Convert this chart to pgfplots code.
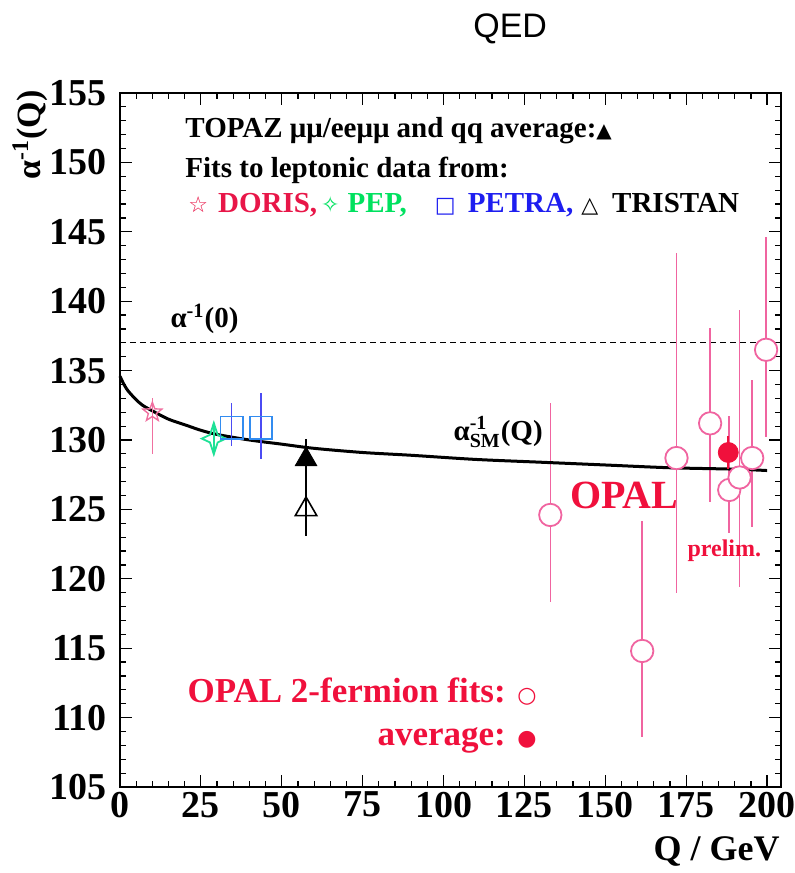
\documentclass[border=0pt]{standalone}
\usepackage{fontspec}
\usepackage{pgfplots}
\pgfplotsset{compat=1.18}
\setmainfont{Liberation Serif}
\newfontfamily\sym{DejaVu Sans}
\newfontfamily\helv{Liberation Sans}

\definecolor{opalpink}{RGB}{240,100,160}
\definecolor{opalred}{RGB}{240,16,60}
\definecolor{dorisred}{RGB}{232,22,72}
\definecolor{dorispink}{RGB}{240,112,160}
\definecolor{pepgreen}{RGB}{0,225,95}
\definecolor{pepmark}{RGB}{30,225,150}
\definecolor{petrablue}{RGB}{30,30,240}
\definecolor{petramark}{RGB}{50,140,240}

% open five-point star
\pgfdeclareplotmark{ostar}{%
  \pgfpathmoveto{\pgfpointpolar{90}{\pgfplotmarksize}}%
  \pgfpathlineto{\pgfpointpolar{126}{0.42\pgfplotmarksize}}%
  \pgfpathlineto{\pgfpointpolar{162}{\pgfplotmarksize}}%
  \pgfpathlineto{\pgfpointpolar{198}{0.42\pgfplotmarksize}}%
  \pgfpathlineto{\pgfpointpolar{234}{\pgfplotmarksize}}%
  \pgfpathlineto{\pgfpointpolar{270}{0.42\pgfplotmarksize}}%
  \pgfpathlineto{\pgfpointpolar{306}{\pgfplotmarksize}}%
  \pgfpathlineto{\pgfpointpolar{342}{0.42\pgfplotmarksize}}%
  \pgfpathlineto{\pgfpointpolar{18}{\pgfplotmarksize}}%
  \pgfpathlineto{\pgfpointpolar{54}{0.42\pgfplotmarksize}}%
  \pgfpathclose\pgfusepathqstroke}
% open four-point star
\pgfdeclareplotmark{ofour}{%
  \pgfpathmoveto{\pgfpointpolar{90}{1.3\pgfplotmarksize}}%
  \pgfpathlineto{\pgfpointpolar{45}{0.45\pgfplotmarksize}}%
  \pgfpathlineto{\pgfpointpolar{0}{\pgfplotmarksize}}%
  \pgfpathlineto{\pgfpointpolar{315}{0.45\pgfplotmarksize}}%
  \pgfpathlineto{\pgfpointpolar{270}{1.3\pgfplotmarksize}}%
  \pgfpathlineto{\pgfpointpolar{225}{0.45\pgfplotmarksize}}%
  \pgfpathlineto{\pgfpointpolar{180}{\pgfplotmarksize}}%
  \pgfpathlineto{\pgfpointpolar{135}{0.45\pgfplotmarksize}}%
  \pgfpathclose\pgfusepathqstroke}

\begin{document}
\begin{tikzpicture}
\begin{axis}[
    scale only axis,
    width=330.5pt, height=347pt,
    xmin=0, xmax=204.3,
    ymin=105, ymax=155,
    xtick={0,25,...,200},
    ytick={105,110,...,155},
    minor x tick num=4,
    minor y tick num=4,
    tick align=inside,
    major tick length=6pt,
    minor tick length=3pt,
    axis line style={line width=1pt},
    tick style={line width=0.6pt, black},
    /pgf/number format/assume math mode=true,
    tick label style={font=\bfseries\fontsize{19}{20}\selectfont},
    yticklabel style={xshift=-3pt},
    xticklabel style={yshift=1pt},
    clip=false,
]
\coordinate (ll) at (rel axis cs:0,0);

% alpha^-1(0)
\addplot[black, dashed, line width=0.6pt, dash pattern=on 3pt off 2pt]
    coordinates {(0,137.036) (204.3,137.036)};

% OPAL 2-fermion fits
\addplot[only marks, mark=*, mark size=5.6pt, opalpink,
    mark options={fill=white, line width=0.9pt},
    error bars/.cd, y dir=both, y explicit, error mark=none,
    error bar style={opalpink, line width=0.8pt}]
  table[x=q, y=a, y error plus=ep, y error minus=em] {
    q     a      ep    em
    133.0 124.6  8.1   6.3
    161.4 114.8  9.4   6.2
    172.0 128.7  14.8  9.7
    182.4 131.2  6.9   5.7
    188.3 126.4  5.3   3.1
    191.5 127.3  12.1  7.9
    195.4 128.7  5.6   5.0
    199.7 136.5  8.1   6.3
  };

% SM running
\addplot[black, line width=1.5pt, smooth] coordinates {
  (0,134.6) (1,134.1) (2,133.7) (3,133.4) (5,132.9) (7,132.5) (10,132.1)
  (15,131.5) (20,131.1) (25,130.7) (30,130.4) (40,130.0) (50,129.7)
  (60,129.4) (75,129.1) (90,128.9) (110,128.6) (130,128.4) (150,128.2)
  (170,128.0) (190,127.9) (200,127.8)
};

% OPAL average
\addplot[only marks, mark=*, mark size=5pt, opalred,
    error bars/.cd, y dir=both, y explicit, error mark=none,
    error bar style={opalred, line width=0.8pt}]
  table[x=q, y=a, y error=e] {
    q     a      e
    188.0 129.1  1.2
  };

% DORIS
\addplot[only marks, mark=ostar, mark size=5pt, dorispink,
    mark options={line width=0.7pt},
    error bars/.cd, y dir=both, y explicit, error mark=none,
    error bar style={dorispink, line width=0.6pt}]
  table[x=q, y=a, y error plus=ep, y error minus=em] {
    q     a      ep   em
    10.0  132.0  1.0  3.0
  };

% PEP
\addplot[only marks, mark=ofour, mark size=6pt, pepmark,
    mark options={line width=0.9pt},
    error bars/.cd, y dir=both, y explicit, error mark=none,
    error bar style={pepmark, line width=0.7pt}]
  table[x=q, y=a, y error=e] {
    q     a      e
    29.0  130.1  1.0
  };

% PETRA
\addplot[only marks, mark=square, mark size=5.6pt, petramark,
    mark options={line width=0.8pt, fill=white},
    error bars/.cd, y dir=both, y explicit, error mark=none,
    error bar style={petrablue!80, line width=0.8pt}]
  table[x=q, y=a, y error plus=ep, y error minus=em] {
    q     a      ep   em
    34.5  130.9  1.8  1.3
    43.6  130.9  2.5  2.3
  };

% TRISTAN
\addplot[only marks, mark=triangle, mark size=6.2pt, black,
    mark options={line width=0.8pt, fill=white},
    error bars/.cd, y dir=both, y explicit, error mark=none,
    error bar style={black, line width=0.7pt}]
  table[x=q, y=a, y error plus=ep, y error minus=em] {
    q     a      ep   em
    57.5  125.0  2.3  1.9
  };

% TOPAZ average
\addplot[only marks, mark=triangle*, mark size=6.2pt, black,
    error bars/.cd, y dir=both, y explicit, error mark=none,
    error bar style={black, line width=0.7pt}]
  table[x=q, y=a, y error=e] {
    q     a      e
    57.5  128.6  1.5
  };

% texts
\node[anchor=base west, font=\bfseries\fontsize{14.5}{16}\selectfont, inner sep=0pt]
  at (axis cs:20.1,151.8) {TOPAZ μμ/eeμμ and qq average:{\sym\fontsize{10}{10}\selectfont ▲}};
\node[anchor=base west, font=\bfseries\fontsize{14.5}{16}\selectfont, inner sep=0pt]
  at (axis cs:20.1,148.9) {Fits to leptonic data from:};
\node[anchor=base west, font=\bfseries\fontsize{14.5}{16}\selectfont, inner sep=0pt]
  at (axis cs:21.0,146.4) {%
  \textcolor{dorisred}{{\sym\fontsize{11}{11}\selectfont ☆}\hspace{5pt}DORIS,}\hspace{2pt}%
  \textcolor{pepgreen}{{\sym\fontsize{11}{11}\selectfont ✧}\hspace{4pt}PEP,}\hspace{14pt}%
  \textcolor{petrablue}{{\sym\fontsize{11}{11}\selectfont □}\hspace{6pt}PETRA,}\hspace{4pt}%
  {\sym\fontsize{11}{11}\selectfont △}\hspace{7pt}TRISTAN};

\node[anchor=base west, font=\bfseries\fontsize{14.5}{15}\selectfont, inner sep=0pt]
  at (axis cs:15.5,138.1) {α\textsuperscript{-1}(0)};
\node[anchor=base west, font=\bfseries\fontsize{14.5}{15}\selectfont, inner sep=0pt]
  at (axis cs:103,130.0) {α$^{\textbf{\fontsize{10}{10}\selectfont -1}}_{\textbf{\fontsize{10}{10}\selectfont SM}}$(Q)};

\node[anchor=base west, opalred, font=\bfseries\fontsize{20}{22}\selectfont, inner sep=0pt]
  at (axis cs:139,125.1) {OPAL};
\node[anchor=base west, opalred, font=\bfseries\fontsize{12}{13}\selectfont, inner sep=0pt]
  at (axis cs:175.3,121.6) {prelim.};

\node[anchor=base east, opalred, font=\bfseries\fontsize{17.5}{19}\selectfont, inner sep=0pt]
  at (axis cs:128.9,111.1) {OPAL 2-fermion fits: {\sym\fontsize{11}{11}\selectfont ○}};
\node[anchor=base east, opalred, font=\bfseries\fontsize{17.5}{19}\selectfont, inner sep=0pt]
  at (axis cs:128.9,108.0) {average: {\sym\fontsize{11}{11}\selectfont ●}};

% title and axis labels
\node[font=\helv\fontsize{17}{18}\selectfont, inner sep=0pt]
  at (axis cs:120.6,159.6) {QED};
\node[anchor=base east, font=\bfseries\fontsize{18}{19}\selectfont, inner sep=0pt]
  at (axis cs:204,99.7) {Q / GeV};
\node[rotate=90, anchor=east, font=\bfseries\fontsize{17}{18}\selectfont, inner sep=0pt]
  at (axis cs:-27.8,155.2) {α\textsuperscript{-1}(Q)};
\end{axis}
\pgfresetboundingbox
\useasboundingbox ([shift={(-60pt,-43pt)}]ll) rectangle ([shift={(337.5pt,393.5pt)}]ll);
\end{tikzpicture}
\end{document}
